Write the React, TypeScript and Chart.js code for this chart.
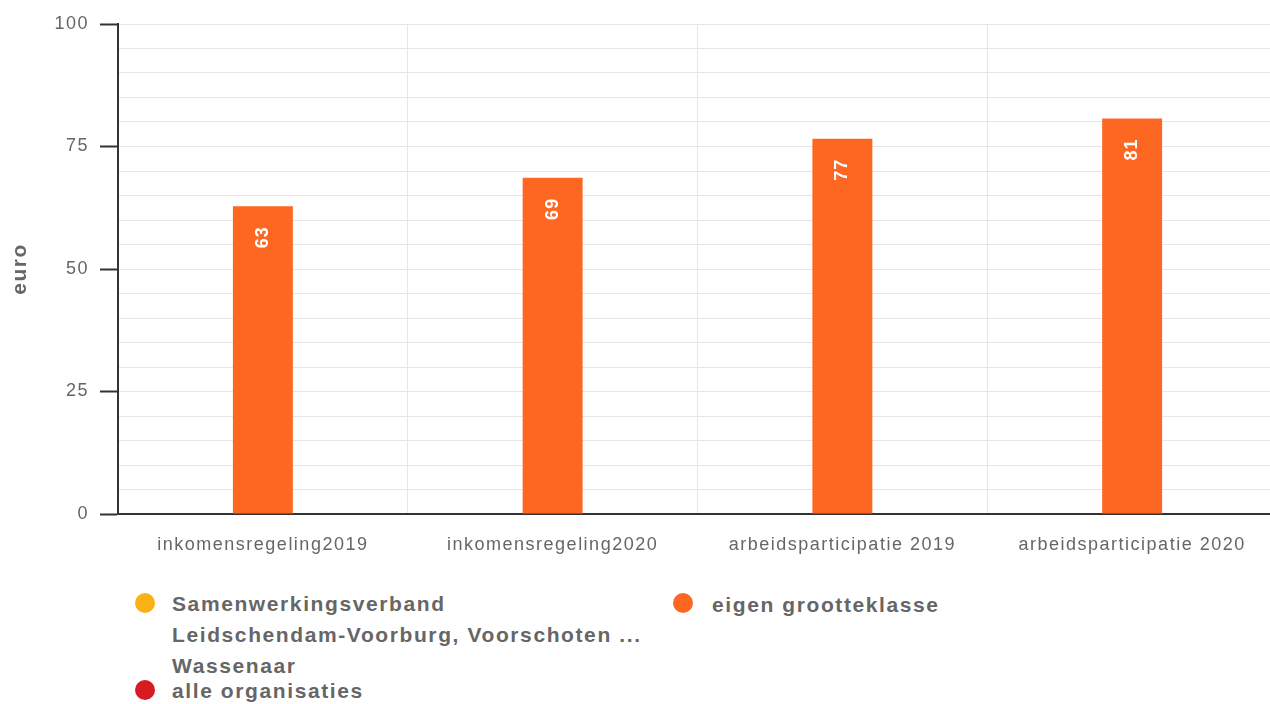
import React, { useEffect, useRef } from "react";
import { Chart, registerables } from "chart.js";

Chart.register(...registerables);

const categories = [
  "inkomensregeling2019",
  "inkomensregeling2020",
  "arbeidsparticipatie 2019",
  "arbeidsparticipatie 2020",
];
const seriesNames = [
  "Samenwerkingsverband Leidschendam-Voorburg, Voorschoten en Wassenaar",
  "eigen grootteklasse",
  "alle organisaties",
];
const samenwerkingsverband: (number | null)[] = [null, null, null, null];
const eigenGrootteklasse: (number | null)[] = [62.8, 68.6, 76.6, 80.7];
const alleOrganisaties: (number | null)[] = [null, null, null, null];
const seriesColors = ["#fbb116", "#fd6722", "#d81b23"];
const yMin = 0;
const yMax = 100;
const yMajorStep = 25;
const yMinorStep = 5;
const yTitle = "euro";

const legendLines1 = [
  "Samenwerkingsverband",
  "Leidschendam-Voorburg, Voorschoten ...",
  "Wassenaar",
];

const FONT = "'Liberation Sans', Arial, Helvetica, sans-serif";

const spacingPlugin = {
  id: "spacing",
  beforeUpdate(chart: any) {
    chart.ctx.letterSpacing = "1.5px";
  },
  beforeLayout(chart: any) {
    chart.ctx.letterSpacing = "1.5px";
  },
  beforeDraw(chart: any) {
    chart.ctx.letterSpacing = "1.5px";
  },
};

const barLabelPlugin = {
  id: "barLabels",
  afterDatasetsDraw(chart: any) {
    const ctx = chart.ctx;
    chart.data.datasets.forEach((ds: any, di: number) => {
      const meta = chart.getDatasetMeta(di);
      meta.data.forEach((bar: any, i: number) => {
        const v = ds.data[i];
        if (v === null || v === undefined) return;
        ctx.save();
        ctx.letterSpacing = "1px";
        ctx.translate(bar.x, bar.y + 20);
        ctx.rotate(-Math.PI / 2);
        ctx.textAlign = "right";
        ctx.textBaseline = "middle";
        ctx.font = `bold 18px ${FONT}`;
        ctx.fillStyle = "#ffffff";
        ctx.fillText(String(Math.round(v)), 0, 0);
        ctx.restore();
      });
    });
  },
};

export default function App() {
  const ref = useRef<HTMLCanvasElement | null>(null);

  useEffect(() => {
    if (!ref.current) return;
    const chart = new Chart(ref.current, {
      type: "bar",
      data: {
        labels: categories,
        datasets: [
          { label: seriesNames[0], data: samenwerkingsverband, backgroundColor: seriesColors[0] },
          { label: seriesNames[1], data: eigenGrootteklasse, backgroundColor: seriesColors[1] },
          { label: seriesNames[2], data: alleOrganisaties, backgroundColor: seriesColors[2] },
        ],
      },
      options: {
        responsive: false,
        animation: false,
        categoryPercentage: 0.8,
        barPercentage: 0.776,
        layout: { padding: { top: 24, right: 3, left: 0, bottom: 0 } },
        plugins: {
          legend: { display: false },
          tooltip: { enabled: false },
        },
        scales: {
          x: {
            offset: true,
            grid: { color: "#e6e6e6", lineWidth: 1, drawTicks: false, offset: true },
            border: { color: "#333333", width: 2 },
            ticks: {
              color: "#666666",
              font: { family: FONT, size: 18 },
              padding: 20,
              maxRotation: 0,
              autoSkip: false,
            },
            afterFit(scale: any) {
              scale.height = 575 - 514;
            },
          },
          y: {
            min: yMin,
            max: yMax,
            grid: {
              color: "#e6e6e6",
              lineWidth: 1,
              drawTicks: true,
              tickLength: 18,
              tickColor: (c: any) =>
                c.tick && c.tick.value % yMajorStep === 0 ? "#333333" : "rgba(0,0,0,0)",
              tickWidth: (c: any) => (c.tick && c.tick.value % yMajorStep === 0 ? 2 : 1),
            },
            border: { color: "#333333", width: 2 },
            ticks: {
              stepSize: yMinorStep,
              autoSkip: false,
              color: "#666666",
              font: { family: FONT, size: 18 },
              padding: 11,
              callback: (v: any) => (Number(v) % yMajorStep === 0 ? String(v) : ""),
            },
            title: {
              display: true,
              text: yTitle,
              color: "#666666",
              font: { family: FONT, size: 21, weight: "bold" },
              padding: { top: 8, bottom: 0 },
            },
            afterFit(scale: any) {
              scale.width = 118;
            },
          },
        },
      },
      plugins: [spacingPlugin, barLabelPlugin],
    });
    return () => chart.destroy();
  }, []);

  const textStyle: React.CSSProperties = {
    position: "absolute",
    fontFamily: FONT,
    fontWeight: "bold",
    fontSize: 21,
    lineHeight: "31px",
    letterSpacing: "1.6px",
    color: "#666666",
    whiteSpace: "nowrap",
  };
  const dot = (cx: number, cy: number, color: string): React.CSSProperties => ({
    position: "absolute",
    left: cx - 10,
    top: cy - 10,
    width: 20,
    height: 20,
    borderRadius: "50%",
    background: color,
  });

  return (
    <div
      style={{
        position: "absolute",
        left: 0,
        top: 0,
        width: 1270,
        height: 704,
        overflow: "hidden",
        background: "#ffffff",
      }}
    >
      <canvas ref={ref} width={1280} height={575} style={{ position: "absolute", left: 0, top: 0 }} />
      <div style={dot(145, 603, seriesColors[0])} />
      <div style={{ ...textStyle, left: 172, top: 588 }}>
        {legendLines1.map((l, i) => (
          <div key={i}>{l}</div>
        ))}
      </div>
      <div style={dot(683, 603, seriesColors[1])} />
      <div style={{ ...textStyle, left: 712, top: 589 }}>{seriesNames[1]}</div>
      <div style={dot(145, 690, seriesColors[2])} />
      <div style={{ ...textStyle, left: 172, top: 675 }}>{seriesNames[2]}</div>
    </div>
  );
}
